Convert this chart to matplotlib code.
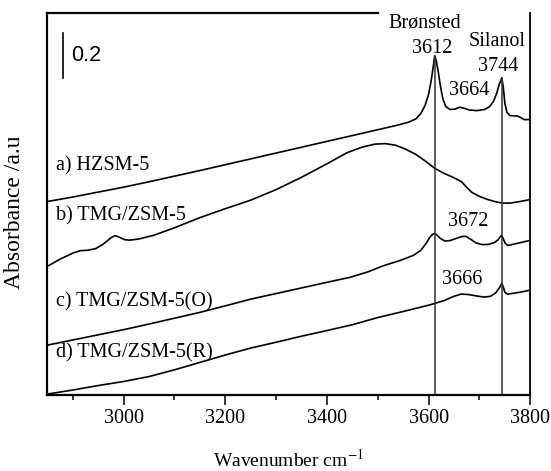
import matplotlib
matplotlib.use('Agg')
import matplotlib.pyplot as plt
from matplotlib.lines import Line2D
from matplotlib.ticker import MultipleLocator

# --- dados (número de onda em cm-1, absorbância) ---
wn_a = [2850, 2900, 2950, 3000, 3050, 3100, 3150, 3200, 3250, 3300, 3350, 3400,
        3450, 3500, 3540, 3560, 3575, 3585, 3593, 3600, 3605, 3609, 3612, 3615,
        3619, 3623, 3628, 3634, 3642, 3652, 3661, 3668, 3680, 3695, 3710, 3720,
        3728, 3734, 3739, 3744, 3747, 3750, 3754, 3760, 3775, 3782, 3788, 3800]
abs_a = [0.862, 0.882, 0.904, 0.926, 0.950, 0.975, 1.000, 1.026, 1.052, 1.078, 1.104, 1.130,
         1.156, 1.182, 1.203, 1.215, 1.230, 1.255, 1.290, 1.340, 1.400, 1.460, 1.511, 1.490,
         1.440, 1.380, 1.320, 1.285, 1.272, 1.274, 1.282, 1.279, 1.270, 1.267, 1.272, 1.285,
         1.310, 1.345, 1.385, 1.413, 1.370, 1.300, 1.260, 1.245, 1.243, 1.235, 1.227, 1.227]

wn_b = [2850, 2875, 2900, 2915, 2930, 2945, 2960, 2975, 2983, 2992, 3002, 3012,
        3030, 3060, 3100, 3150, 3200, 3250, 3300, 3350, 3400, 3440, 3470, 3495,
        3515, 3535, 3555, 3575, 3595, 3612, 3630, 3650, 3665, 3675, 3685, 3700,
        3715, 3730, 3745, 3760, 3780, 3800]
abs_b = [0.573, 0.605, 0.632, 0.643, 0.645, 0.652, 0.672, 0.700, 0.710, 0.703, 0.692, 0.690,
         0.695, 0.712, 0.745, 0.790, 0.830, 0.868, 0.915, 0.970, 1.030, 1.080, 1.105, 1.118,
         1.120, 1.113, 1.095, 1.072, 1.040, 1.010, 0.988, 0.968, 0.950, 0.925, 0.903, 0.885,
         0.872, 0.862, 0.855, 0.855, 0.862, 0.871]

wn_c = [2850, 2900, 2950, 3000, 3050, 3100, 3150, 3200, 3250, 3300, 3350, 3400,
        3445, 3480, 3510, 3545, 3570, 3585, 3595, 3603, 3608, 3612, 3617, 3623,
        3632, 3642, 3655, 3665, 3673, 3682, 3693, 3705, 3718, 3730, 3737, 3741,
        3744, 3747, 3751, 3756, 3775, 3800]
abs_c = [0.222, 0.245, 0.268, 0.291, 0.316, 0.342, 0.368, 0.397, 0.427, 0.452, 0.477, 0.502,
         0.524, 0.548, 0.575, 0.600, 0.622, 0.645, 0.675, 0.705, 0.716, 0.720, 0.712, 0.698,
         0.686, 0.688, 0.698, 0.706, 0.707, 0.695, 0.678, 0.670, 0.671, 0.680, 0.692, 0.706,
         0.711, 0.695, 0.675, 0.666, 0.676, 0.689]

wn_d = [2850, 2900, 2950, 3000, 3050, 3100, 3150, 3200, 3250, 3300, 3350, 3400,
        3450, 3500, 3550, 3600, 3630, 3650, 3665, 3680, 3695, 3710, 3722, 3732,
        3740, 3744, 3747, 3750, 3755, 3780, 3800]
abs_d = [0.004, 0.022, 0.042, 0.060, 0.082, 0.112, 0.145, 0.178, 0.209, 0.235, 0.262, 0.287,
         0.313, 0.345, 0.372, 0.400, 0.420, 0.440, 0.450, 0.447, 0.441, 0.436, 0.440, 0.455,
         0.480, 0.498, 0.480, 0.458, 0.449, 0.458, 0.467]

amostras = ['a) HZSM-5', 'b) TMG/ZSM-5', 'c) TMG/ZSM-5(O)', 'd) TMG/ZSM-5(R)']
y_amostras = [1.022, 0.800, 0.413, 0.187]

picos = [3612, 3744]          # linhas verticais (Brønsted, Silanol)
topo_picos = [1.511, 1.413]

# --- estilo ---
plt.rcParams['font.family'] = ['Liberation Serif', 'DejaVu Serif']
plt.rcParams['mathtext.fontset'] = 'stix'

fig = plt.figure(figsize=(5.51, 4.71), dpi=100)
ax = fig.add_axes([0.0858, 0.1614, 0.8766, 0.8100])

for wn, ab in [(wn_a, abs_a), (wn_b, abs_b), (wn_c, abs_c), (wn_d, abs_d)]:
    ax.plot(wn, ab, color='black', lw=1.2)

for x, top in zip(picos, topo_picos):
    ax.plot([x, x], [0, top], color='#333333', lw=1.1)

for nome, y in zip(amostras, y_amostras):
    ax.text(2867, y, nome, fontsize=14.5, ha='left', va='center')

# anotações dos picos
ax.text(3593, 1.658, 'Brønsted', fontsize=14.5, ha='center', va='center')
ax.text(3607, 1.542, '3612', fontsize=14.5, ha='center', va='center')
ax.text(3735, 1.573, 'Silanol', fontsize=14.5, ha='center', va='center')
ax.text(3736, 1.462, '3744', fontsize=14.5, ha='center', va='center')
ax.text(3680, 1.356, '3664', fontsize=14.5, ha='center', va='center')
ax.text(3678, 0.773, '3672', fontsize=14.5, ha='center', va='center')
ax.text(3666, 0.516, '3666', fontsize=14.5, ha='center', va='center')

# barra de escala 0.2
ax.plot([2880, 2880], [1.413, 1.613], color='black', lw=1.2)
ax.text(2897, 1.511, '0.2', fontsize=15.5, family='Liberation Sans',
        ha='left', va='center')

ax.set_xlim(2850, 3800)
ax.set_ylim(0, 1.70)
ax.xaxis.set_major_locator(MultipleLocator(200))
ax.xaxis.set_minor_locator(MultipleLocator(100))
ax.set_yticks([])
ax.tick_params(axis='x', which='major', direction='out', length=7, width=1.1,
               labelsize=14.5, pad=3)
ax.tick_params(axis='x', which='minor', direction='out', length=3.5, width=1.1)

for s in ['left', 'bottom']:
    ax.spines[s].set_linewidth(1.6)
ax.spines['right'].set_linewidth(1.3)
ax.spines['top'].set_visible(False)
# borda superior só até ~3500 (coberta pelos rótulos à direita)
fig.add_artist(Line2D([0.0858, 0.0858 + 0.8766 * 0.684], [0.9714, 0.9714],
                      transform=fig.transFigure, color='black', lw=1.6,
                      zorder=10))

ax.set_xlabel('Wavenumber cm$^{-1}$', fontsize=14)
ax.xaxis.set_label_coords(0.5, -0.14)
ax.set_ylabel('Absorbance /a.u', fontsize=17)
ax.yaxis.set_label_coords(-0.046, 0.478)

fig.savefig('out.png', dpi=100)
